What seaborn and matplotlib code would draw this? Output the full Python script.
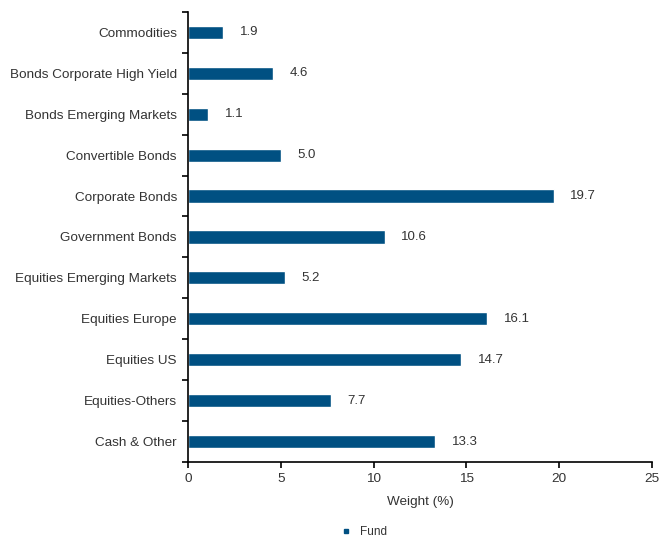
import matplotlib
matplotlib.use("Agg")
import matplotlib.pyplot as plt
import seaborn as sns
import pandas as pd
import numpy as np
from matplotlib.lines import Line2D

categories = ["Commodities", "Bonds Corporate High Yield", "Bonds Emerging Markets",
              "Convertible Bonds", "Corporate Bonds", "Government Bonds",
              "Equities Emerging Markets", "Equities Europe", "Equities US",
              "Equities-Others", "Cash & Other"]
values = [1.9, 4.6, 1.1, 5.0, 19.7, 10.6, 5.2, 16.1, 14.7, 7.7, 13.3]
x_ticks = [0, 5, 10, 15, 20, 25]
series_name = "Fund"
bar_color = "#005082"
text_color = "#333333"

sns.set_theme(style="white")
plt.rcParams['font.family'] = ['Liberation Sans', 'DejaVu Sans']

df = pd.DataFrame({"cat": categories, "val": values})
fig = plt.figure(figsize=(6.61, 5.41), dpi=100)
ax = fig.add_axes([0.2844, 0.146, 0.702, 0.832])
sns.barplot(data=df, x="val", y="cat", color=bar_color, width=0.32, ax=ax, saturation=1)

for i, v in enumerate(values):
    ax.text(v + 0.9, i, f"{v:.1f}", va="center", ha="left", fontsize=9.5, color=text_color)

ax.set_xlim(0, 25)
ax.set_ylim(len(categories) - 0.5, -0.5)
ax.set_xticks(x_ticks)
ax.set_xticklabels([str(t) for t in x_ticks], fontsize=9.7, color=text_color)
ax.set_yticks(range(len(categories)))
ax.set_yticklabels(categories, fontsize=9.7, color=text_color)
ax.set_yticks(np.arange(-0.5, len(categories), 1), minor=True)
ax.tick_params(axis="y", which="major", length=0, pad=8)
ax.tick_params(axis="y", which="minor", length=4, width=1.2, color="black", left=True)
ax.tick_params(axis="x", which="major", length=4, width=1.2, color="black", bottom=True, pad=4)
ax.set_xlabel("Weight (%)", fontsize=9.7, color=text_color, labelpad=8)
ax.set_ylabel("")
for s in ["top", "right"]:
    ax.spines[s].set_visible(False)
for s in ["left", "bottom"]:
    ax.spines[s].set_color("black")
    ax.spines[s].set_linewidth(1.2)

handle = Line2D([], [], marker="s", linestyle="", color=bar_color, markersize=3.5)
fig.legend([handle], [series_name], loc="center", bbox_to_anchor=(0.545, 0.017),
           frameon=False, fontsize=8.5, handletextpad=0.2, labelcolor=text_color)

fig.savefig("out.png", dpi=100)
